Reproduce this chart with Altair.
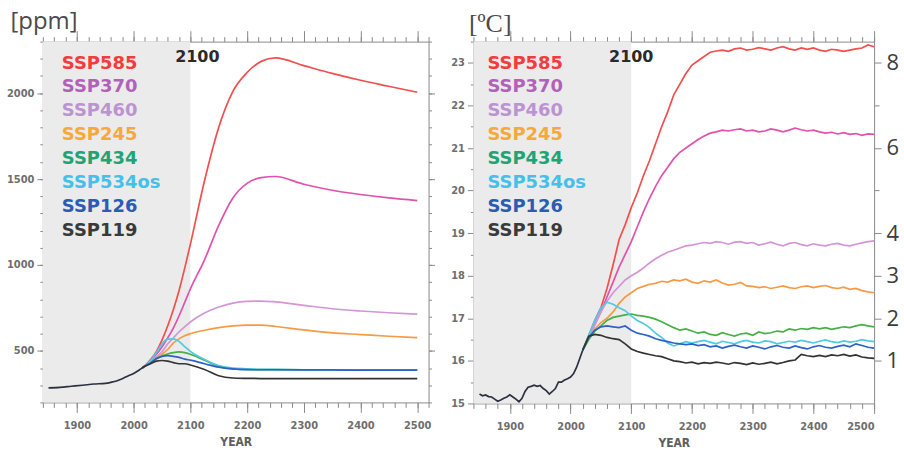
import altair as alt
import pandas as pd

SCENARIOS = ["SSP585", "SSP370", "SSP460", "SSP245", "SSP434", "SSP534os", "SSP126", "SSP119"]
LEGEND_COLORS = ["#f23b3b", "#b162b8", "#bc93d2", "#f6a93a", "#22a373", "#45c0ea", "#2b5bb3", "#3a3a3a"]
LINE_COLORS = ["#f24e4e", "#e052ac", "#d495d6", "#f79a45", "#45b045", "#4ccbe3", "#2f62c8", "#333333"]
HIST_NAME = "Historical"
HIST_COLOR = "#2b3140"

# ---------------- CO2 concentration [ppm] ----------------
CO2_HIST_YEARS = [1850, 1870, 1890, 1910, 1930, 1950, 1960, 1970, 1980, 1990, 2000, 2010, 2015]
CO2_HIST = [285, 288, 294, 300, 307, 311, 317, 325, 338, 354, 369, 389, 400]
CO2_YEARS = [2015, 2020, 2030, 2040, 2050, 2060, 2070, 2080, 2090, 2100, 2125,
             2150, 2175, 2200, 2225, 2250, 2300, 2350, 2400, 2450, 2500]
CO2_SSP585 = [400, 414, 449, 496, 563, 645, 740, 850, 980, 1120, 1490, 1800, 2010, 2120, 2185, 2205, 2160, 2115, 2075, 2040, 2005]
CO2_SSP370 = [400, 413, 443, 479, 523, 575, 633, 703, 781, 860, 1030, 1230, 1390, 1475, 1508, 1515, 1470, 1435, 1410, 1390, 1375]
CO2_SSP460 = [400, 412, 436, 463, 495, 540, 575, 610, 640, 668, 720, 755, 778, 788, 790, 785, 765, 745, 732, 722, 714]
CO2_SSP245 = [400, 412, 434, 456, 480, 508, 545, 570, 588, 600, 620, 635, 645, 650, 650, 642, 622, 605, 595, 585, 577]
CO2_SSP434 = [400, 412, 432, 452, 470, 482, 490, 494, 490, 480, 445, 410, 395, 392, 391, 391, 390, 390, 390, 390, 390]
CO2_SSP534OS = [400, 413, 443, 489, 540, 568, 570, 555, 525, 497, 450, 415, 400, 396, 393, 392, 390, 389, 389, 388, 388]
CO2_SSP126 = [400, 412, 430, 455, 468, 472, 468, 462, 452, 446, 425, 405, 395, 391, 390, 390, 389, 389, 388, 388, 388]
CO2_SSP119 = [400, 410, 425, 440, 444, 440, 432, 425, 425, 418, 392, 355, 342, 340, 339, 338, 338, 338, 338, 338, 338]

# ---------------- Surface air temperature [ºC] ----------------
T_HIST_YEARS = [1850, 1855, 1860, 1865, 1870, 1875, 1880, 1885, 1890, 1895, 1900, 1905, 1910, 1915,
                1920, 1925, 1930, 1935, 1940, 1945, 1950, 1955, 1960, 1965, 1970, 1975, 1980, 1985,
                1990, 1995, 2000, 2005, 2010, 2015, 2020]
T_HIST = [15.22, 15.18, 15.20, 15.16, 15.15, 15.10, 15.05, 15.08, 15.12, 15.15, 15.20, 15.15, 15.10, 15.04,
          15.12, 15.28, 15.38, 15.40, 15.43, 15.40, 15.42, 15.35, 15.30, 15.22, 15.28, 15.35, 15.50, 15.50,
          15.55, 15.58, 15.62, 15.70, 15.85, 16.05, 16.25]
T_YEARS = list(range(2020, 2501, 10))
T_SSP585 = [16.25, 16.60, 16.95, 17.25, 17.70, 18.25, 18.85, 19.20, 19.60, 19.95,
            20.35, 20.70, 21.10, 21.50, 21.85, 22.25, 22.50, 22.75, 22.95, 23.05,
            23.15, 23.25, 23.28, 23.30, 23.27, 23.33, 23.35, 23.30, 23.32, 23.36,
            23.33, 23.30, 23.35, 23.38, 23.33, 23.30, 23.35, 23.32, 23.35, 23.30,
            23.27, 23.32, 23.30, 23.27, 23.30, 23.33, 23.35, 23.42, 23.38]
T_SSP370 = [16.25, 16.55, 16.85, 17.15, 17.50, 17.85, 18.20, 18.50, 18.80, 19.15,
            19.50, 19.82, 20.10, 20.35, 20.55, 20.75, 20.90, 21.00, 21.10, 21.20,
            21.28, 21.35, 21.38, 21.42, 21.40, 21.43, 21.45, 21.40, 21.42, 21.38,
            21.40, 21.45, 21.42, 21.38, 21.42, 21.47, 21.43, 21.40, 21.42, 21.38,
            21.35, 21.37, 21.33, 21.36, 21.32, 21.34, 21.30, 21.33, 21.32]
T_SSP460 = [16.25, 16.55, 16.85, 17.15, 17.40, 17.60, 17.75, 17.90, 18.00, 18.08,
            18.18, 18.30, 18.40, 18.48, 18.55, 18.60, 18.65, 18.70, 18.72, 18.75,
            18.78, 18.76, 18.80, 18.78, 18.74, 18.79, 18.80, 18.76, 18.78, 18.72,
            18.75, 18.79, 18.74, 18.70, 18.76, 18.78, 18.73, 18.70, 18.75, 18.72,
            18.70, 18.74, 18.76, 18.72, 18.70, 18.74, 18.77, 18.80, 18.82]
T_SSP245 = [16.25, 16.55, 16.75, 16.90, 17.00, 17.15, 17.35, 17.50, 17.60, 17.70,
            17.75, 17.80, 17.82, 17.87, 17.85, 17.90, 17.88, 17.92, 17.85, 17.82,
            17.88, 17.85, 17.90, 17.83, 17.78, 17.80, 17.84, 17.76, 17.75, 17.72,
            17.74, 17.70, 17.73, 17.76, 17.72, 17.70, 17.74, 17.76, 17.72, 17.75,
            17.77, 17.72, 17.70, 17.73, 17.68, 17.70, 17.65, 17.62, 17.60]
T_SSP434 = [16.25, 16.50, 16.70, 16.82, 16.95, 17.02, 17.05, 17.08, 17.10, 17.07,
            17.05, 17.02, 16.98, 16.92, 16.85, 16.78, 16.72, 16.75, 16.70, 16.65,
            16.68, 16.62, 16.60, 16.66, 16.62, 16.58, 16.63, 16.65, 16.60, 16.68,
            16.64, 16.66, 16.70, 16.68, 16.75, 16.72, 16.76, 16.74, 16.78, 16.75,
            16.78, 16.74, 16.77, 16.80, 16.78, 16.82, 16.85, 16.82, 16.80]
T_SSP534OS = [16.25, 16.60, 16.95, 17.25, 17.38, 17.33, 17.25, 17.18, 17.05, 16.95,
              16.88, 16.78, 16.65, 16.55, 16.42, 16.35, 16.40, 16.45, 16.42, 16.45,
              16.48, 16.44, 16.40, 16.46, 16.43, 16.40, 16.45, 16.48, 16.44, 16.42,
              16.47, 16.45, 16.40, 16.43, 16.46, 16.44, 16.48, 16.45, 16.42, 16.46,
              16.49, 16.45, 16.43, 16.47, 16.44, 16.46, 16.50, 16.47, 16.45]
T_SSP126 = [16.25, 16.55, 16.72, 16.80, 16.82, 16.80, 16.78, 16.82, 16.72, 16.65,
            16.62, 16.58, 16.52, 16.48, 16.45, 16.42, 16.40, 16.38, 16.40, 16.36,
            16.38, 16.33, 16.35, 16.30, 16.34, 16.37, 16.33, 16.30, 16.35, 16.32,
            16.28, 16.33, 16.36, 16.32, 16.30, 16.35, 16.31, 16.28, 16.33, 16.36,
            16.32, 16.30, 16.34, 16.37, 16.33, 16.40, 16.36, 16.32, 16.30]
T_SSP119 = [16.25, 16.58, 16.62, 16.60, 16.55, 16.52, 16.50, 16.40, 16.28, 16.22,
            16.18, 16.15, 16.12, 16.10, 16.05, 16.00, 15.98, 15.95, 15.97, 15.93,
            15.96, 15.94, 15.97, 15.95, 15.92, 15.96, 15.94, 15.91, 15.95, 15.92,
            15.94, 15.97, 15.93, 15.96, 16.00, 16.02, 16.15, 16.12, 16.10, 16.13,
            16.10, 16.14, 16.12, 16.15, 16.11, 16.14, 16.09, 16.07, 16.06]

LEFT_Y_MAJOR = [500, 1000, 1500, 2000]
LEFT_Y_MINOR = list(range(200, 2301, 100))
RIGHT_Y_MAJOR = [15, 16, 17, 18, 19, 20, 21, 22, 23]
RIGHT_Y_MINOR = [15.5, 16.5, 17.5, 18.5, 19.5, 20.5, 21.5, 22.5, 23.5]
ANOM_MAJOR = [16, 17, 18, 19, 21, 23]
ANOM_MINOR = [20, 22]
X_MAJOR = [1900, 2000, 2100, 2200, 2300, 2400, 2500]
X_MINOR = list(range(1840, 2521, 20))


def long_df(hist_years, hist, years, series_list):
    rows = []
    for name, vals in zip(SCENARIOS, series_list):
        for y, v in zip(years, vals):
            rows.append({"series": name, "year": y, "value": v})
    for y, v in zip(hist_years, hist):
        rows.append({"series": HIST_NAME, "year": y, "value": v})
    return pd.DataFrame(rows)


co2_df = long_df(CO2_HIST_YEARS, CO2_HIST, CO2_YEARS,
                 [CO2_SSP585, CO2_SSP370, CO2_SSP460, CO2_SSP245, CO2_SSP434, CO2_SSP534OS, CO2_SSP126, CO2_SSP119])
tmp_df = long_df(T_HIST_YEARS, T_HIST, T_YEARS,
                 [T_SSP585, T_SSP370, T_SSP460, T_SSP245, T_SSP434, T_SSP534OS, T_SSP126, T_SSP119])

TICK_FONT = "Liberation Sans Narrow, DejaVu Sans Condensed, sans-serif"
AX_GRAY = "#8a8a8a"
LBL_GRAY = "#6e6e6e"


def ax(**kw):
    d = dict(domain=False, grid=False, tickColor=AX_GRAY, tickWidth=1, labelFont=TICK_FONT,
             labelFontSize=11, labelFontWeight="bold", labelColor=LBL_GRAY, title=None, labels=False)
    d.update(kw)
    return alt.Axis(**d)


def panel(df, xdom, ydom, w, h, interp, ymaj, ymin, ytitle, ytitle_font, ytitle_size, ytitle_x, ytitle_y,
          right_major_axis, right_minor_axis, legend_x, text_dx):
    xs = alt.Scale(domain=xdom, nice=False, zero=False)
    ys = alt.Scale(domain=ydom, nice=False, zero=False)

    bg = alt.Chart(pd.DataFrame({"x0": [xdom[0]], "x1": [2100]})).mark_rect(color="#ebebeb").encode(
        x=alt.X("x0:Q", scale=xs, axis=None), x2="x1:Q", y=alt.value(0), y2=alt.value(h))

    lines = alt.Chart(df).mark_line(strokeWidth=1.7, interpolate=interp).encode(
        x=alt.X("year:Q", scale=xs, axis=None),
        y=alt.Y("value:Q", scale=ys, axis=None),
        color=alt.Color("series:N", scale=alt.Scale(domain=SCENARIOS + [HIST_NAME],
                                                    range=LINE_COLORS + [HIST_COLOR]), legend=None))

    dummy = pd.DataFrame({"x": [xdom[0], xdom[1]], "y": [ydom[0], ydom[1]]})

    def axl(xa, ya):
        return alt.Chart(dummy).mark_point(size=0, opacity=0).encode(
            x=alt.X("x:Q", scale=xs, axis=xa), y=alt.Y("y:Q", scale=ys, axis=ya))

    a1 = axl(ax(orient="bottom", values=X_MAJOR, tickSize=10, labels=True, labelPadding=7, format="d",
                title="YEAR", titleFont=TICK_FONT, titleFontSize=12, titleFontWeight="bold",
                titleColor="#5e5e5e", titlePadding=6),
             ax(orient="left", values=ymaj, tickSize=6, labels=True, labelPadding=3, format="d",
                title=ytitle, titleFont=ytitle_font, titleFontSize=ytitle_size,
                titleFontWeight="normal", titleColor="#4a4a4a", titleAngle=0, titleAlign="left",
                titleBaseline="alphabetic", titleX=ytitle_x, titleY=ytitle_y))
    a2 = axl(ax(orient="bottom", values=X_MINOR, tickSize=5),
             ax(orient="left", values=ymin, tickSize=3))
    a3 = axl(ax(orient="top", values=X_MAJOR, tickSize=11), right_major_axis)
    a4 = axl(ax(orient="top", values=X_MINOR, tickSize=5), right_minor_axis)

    leg_df = pd.DataFrame({"name": SCENARIOS, "idx": list(range(len(SCENARIOS))), "c": LEGEND_COLORS})
    leg = alt.Chart(leg_df).mark_text(align="left", baseline="middle", font="DejaVu Sans",
                                      fontWeight="bold", fontSize=18).encode(
        x=alt.value(legend_x),
        y=alt.Y("idx:Q", scale=alt.Scale(domain=[0, 7], range=[22, 190]), axis=None),
        text="name:N",
        color=alt.Color("c:N", scale=None))

    t2100 = alt.Chart(pd.DataFrame({"x": [2100], "t": ["2100"]})).mark_text(
        align="center", baseline="middle", font="DejaVu Sans", fontWeight="bold", fontSize=16,
        color="#2a2a2a", dx=text_dx).encode(
        x=alt.X("x:Q", scale=xs, axis=None), y=alt.value(15), text="t:N")

    return alt.layer(bg, lines, a1, a2, a3, a4, leg, t2100).resolve_scale(
        y="independent", color="independent").resolve_axis(x="independent", y="independent").properties(
        width=w, height=h)


left = panel(co2_df, [1840, 2520], [200, 2300], 387, 362, "monotone",
             LEFT_Y_MAJOR, LEFT_Y_MINOR, "[ppm]", "Open Sans", 24, -33, -13,
             ax(orient="right", values=LEFT_Y_MAJOR, tickSize=6),
             ax(orient="right", values=LEFT_Y_MINOR, tickSize=3),
             19, 7)

right = panel(tmp_df, [1840, 2500], [15, 23.5], 402, 363, "linear",
              RIGHT_Y_MAJOR, RIGHT_Y_MINOR, "[ºC]", "Liberation Serif", 26, -5, -10,
              ax(orient="right", values=ANOM_MAJOR, tickSize=7, labels=True, labelPadding=5,
                 labelExpr="datum.value - 15", labelFont="Open Sans", labelFontSize=22,
                 labelFontWeight="normal", labelColor="#3c3c3c"),
              ax(orient="right", values=ANOM_MINOR, tickSize=5),
              14, 0)

chart = alt.hconcat(left, right, spacing=14).properties(
    padding={"left": 5, "top": 8, "right": 4, "bottom": 2}
).configure_view(stroke=AX_GRAY, strokeWidth=1)

chart.save("out.html", embed_options={"renderer": "svg", "actions": False})
